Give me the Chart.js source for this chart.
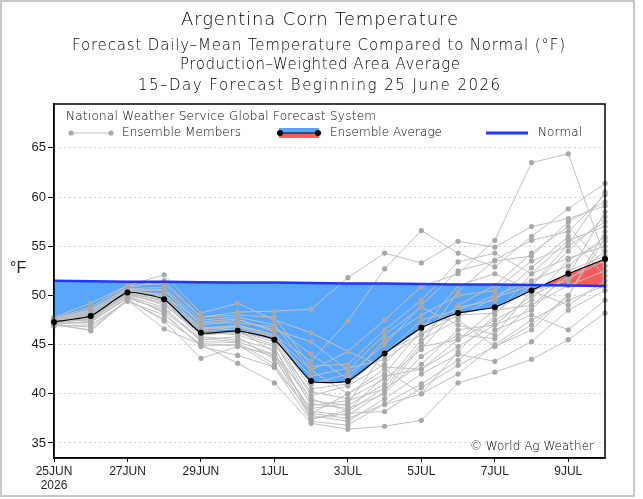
<!DOCTYPE html>
<html>
<head>
<meta charset="utf-8">
<title>Argentina Corn Temperature</title>
<script src="https://cdn.jsdelivr.net/npm/chart.js@4.4.1/dist/chart.umd.min.js"></script>
<style>
  html, body { margin: 0; padding: 0; background: #fff; }
  #wrap { width: 643px; height: 499px; }
</style>
</head>
<body>
<div id="wrap"><canvas id="chart" width="643" height="499"></canvas></div>
<script>
// days of the 15-day forecast
const xLabels = ['25JUN', '26JUN', '27JUN', '28JUN', '29JUN', '30JUN', '1JUL', '2JUL',
                 '3JUL', '4JUL', '5JUL', '6JUL', '7JUL', '8JUL', '9JUL', '10JUL'];
const yTicks = [35, 40, 45, 50, 55, 60, 65];

const normal      = [51.5, 51.45, 51.4, 51.4, 51.35, 51.3, 51.3, 51.25, 51.2, 51.2, 51.15, 51.1, 51.1, 51.05, 51.0, 50.95];
const ensembleAvg = [47.3, 47.9, 50.3, 49.6, 46.2, 46.4, 45.5, 41.3, 41.3, 44.1, 46.7, 48.2, 48.8, 50.5, 52.2, 53.7];

// ensemble members (approximate)
const member01 = [47.5, 48.2, 50.5, 50.0, 46.8, 46.5, 45.8, 42.4, 44.3, 47.5, 50.9, 52.2, 55.6, 63.5, 64.4, 53.8];
const member02 = [47.2, 47.8, 50.2, 49.8, 46.5, 47.0, 46.0, 43.3, 47.4, 52.7, 56.6, 54.3, 52.9, 56.0, 58.8, 61.4];
const member03 = [47.6, 48.5, 50.8, 51.5, 47.8, 48.3, 48.4, 48.6, 51.8, 54.3, 53.3, 55.5, 54.9, 57.0, 57.8, 59.1];
const member04 = [47.0, 46.5, 49.6, 47.4, 43.6, 44.8, 44.0, 39.5, 38.2, 40.6, 45.1, 50.4, 53.6, 55.6, 56.5, 60.2];
const member05 = [47.1, 46.4, 49.5, 46.6, 45.0, 43.1, 41.1, 37.0, 36.4, 36.7, 37.3, 41.1, 42.2, 43.5, 45.5, 48.2];
const member06 = [47.3, 47.5, 50.0, 48.2, 44.8, 43.9, 42.7, 38.0, 37.5, 38.9, 40.0, 44.3, 48.0, 52.2, 55.6, 57.0];
const member07 = [47.8, 49.2, 51.0, 52.1, 48.2, 49.2, 47.5, 46.2, 44.3, 42.7, 42.5, 45.5, 47.5, 49.5, 53.6, 55.5];
const member08 = [47.4, 48.0, 50.6, 50.5, 47.0, 47.5, 46.5, 45.3, 42.4, 46.0, 48.8, 47.0, 46.0, 50.5, 51.5, 54.5];
const member09 = [47.2, 47.6, 50.1, 49.2, 45.8, 45.5, 44.5, 39.0, 38.5, 40.0, 43.8, 46.0, 45.6, 49.0, 52.0, 58.5];
const member10 = [47.5, 48.3, 50.4, 49.9, 46.0, 46.2, 45.0, 40.2, 39.5, 41.5, 44.5, 48.8, 49.5, 52.8, 56.0, 52.0];
const member11 = [47.0, 47.4, 49.8, 48.4, 45.5, 45.8, 43.5, 38.5, 39.0, 44.3, 46.0, 49.0, 51.0, 54.3, 57.0, 53.0];
const member12 = [47.3, 47.7, 50.2, 49.5, 46.3, 46.0, 44.8, 37.5, 38.0, 38.2, 40.6, 42.9, 44.8, 47.0, 50.0, 56.5];
const member13 = [47.6, 48.6, 50.7, 50.8, 47.5, 47.8, 47.0, 42.4, 40.0, 42.0, 46.5, 51.0, 52.2, 50.5, 49.0, 51.5];
const member14 = [47.2, 47.2, 49.9, 48.8, 45.3, 45.2, 43.0, 37.8, 37.2, 39.5, 42.0, 44.0, 43.3, 45.3, 48.5, 50.5];
const member15 = [47.4, 48.1, 50.3, 50.2, 46.6, 46.8, 45.8, 39.8, 40.8, 43.0, 47.0, 47.8, 49.8, 51.0, 54.5, 58.0];
const member16 = [46.9, 47.0, 49.4, 48.0, 44.9, 45.0, 42.7, 37.2, 36.8, 39.0, 41.0, 43.4, 46.5, 48.0, 46.5, 49.5];
const member17 = [47.3, 47.9, 50.0, 49.3, 46.0, 46.3, 45.3, 38.8, 39.3, 40.5, 43.0, 46.5, 47.0, 48.5, 52.5, 54.0];
const member18 = [47.5, 48.4, 50.5, 50.6, 47.2, 47.2, 46.8, 44.0, 41.5, 45.5, 48.0, 50.0, 50.5, 53.5, 55.0, 57.5];
const member19 = [47.1, 47.3, 49.7, 48.6, 45.6, 45.3, 44.0, 38.2, 37.8, 40.2, 44.8, 45.5, 48.5, 49.0, 51.0, 52.5];
const member20 = [47.7, 48.8, 51.0, 51.2, 47.8, 48.0, 47.8, 42.8, 43.0, 46.5, 49.5, 53.4, 54.3, 52.2, 53.8, 55.0];
const member21 = [47.3, 47.6, 50.2, 49.0, 46.2, 46.4, 45.5, 39.3, 38.8, 41.0, 45.5, 47.5, 44.8, 46.5, 50.0, 55.8];
const member22 = [47.2, 47.8, 50.1, 49.6, 46.4, 46.6, 44.2, 38.0, 40.0, 42.5, 40.0, 42.0, 45.0, 47.5, 49.5, 51.0];
const member23 = [47.4, 48.0, 50.4, 49.7, 46.7, 46.9, 46.0, 40.5, 41.0, 44.0, 47.5, 48.5, 50.0, 51.5, 53.0, 56.0];
const member24 = [47.6, 48.5, 50.6, 50.0, 47.3, 47.6, 46.3, 41.0, 42.0, 45.0, 49.0, 52.5, 53.5, 54.0, 57.5, 59.5];
const member25 = [47.0, 46.8, 49.5, 47.6, 45.1, 44.9, 43.8, 37.4, 38.3, 41.8, 42.5, 44.8, 47.0, 50.0, 51.8, 53.5];
const member26 = [47.5, 48.1, 50.3, 49.4, 46.1, 46.2, 45.6, 41.8, 42.6, 43.5, 46.0, 48.0, 48.2, 51.0, 55.2, 60.5];

const members = [member01, member02, member03, member04, member05, member06, member07, member08, member09,
                 member10, member11, member12, member13, member14, member15, member16, member17, member18,
                 member19, member20, member21, member22, member23, member24, member25, member26];

const BLUE_FILL = '#58a6fb';
const RED_FILL  = '#fa5c5c';
const NORMAL_COLOR = '#1f35ff';
const MEMBER_LINE = '#c0c0c0';
const MEMBER_DOT  = '#a8a8a8';
const TEXT = '#1e1e1e';
const HERSHEY = '"DejaVu Sans", sans-serif';

// draw text stretched to a target width with letter spacing (GrADS look)
function fitText(ctx, text, left, y, size, width) {
  ctx.save();
  ctx.font = '200 ' + size + 'px ' + HERSHEY;
  ctx.fillStyle = '#000';
  ctx.textBaseline = 'middle';
  ctx.textAlign = 'left';
  const n = Array.from(text).length;
  const w = ctx.measureText(text).width;
  if ('letterSpacing' in ctx && n > 1) {
    ctx.letterSpacing = ((width - w) / (n - 1)) + 'px';
    ctx.fillText(text, left, y);
  } else {
    ctx.translate(left, y);
    ctx.scale(width / w, 1);
    ctx.fillText(text, 0, 0);
  }
  ctx.restore();
}

const decorations = {
  id: 'decorations',
  afterDraw(chart) {
    const ctx = chart.ctx;
    const a = chart.chartArea;

    // plot frame
    ctx.save();
    ctx.strokeStyle = '#000';
    ctx.lineWidth = 1.5;
    ctx.strokeRect(a.left, a.top, a.right - a.left, a.bottom - a.top);
    ctx.restore();

    // outer picture border
    ctx.save();
    ctx.strokeStyle = '#c8c8c8';
    ctx.lineWidth = 2;
    ctx.strokeRect(1, 1, 633, 495);
    ctx.restore();

    // titles
    fitText(ctx, 'Argentina Corn Temperature', 181, 20, 18, 277);
    fitText(ctx, 'Forecast Daily\u2013Mean Temperature Compared to Normal (\u00b0F)', 72, 46, 15, 493);
    fitText(ctx, 'Production\u2013Weighted Area Average', 180, 65, 15, 280);
    fitText(ctx, '15\u2013Day Forecast Beginning 25 June 2026', 138, 86, 15, 362);

    // y axis unit
    ctx.save();
    ctx.font = '16px "Liberation Sans", sans-serif';
    ctx.fillStyle = TEXT;
    ctx.textBaseline = 'middle';
    ctx.fillText('\u00b0F', 10, 269);
    ctx.restore();

    // legend inside the plot
    fitText(ctx, 'National Weather Service Global Forecast System', 66, 117, 12, 310);
    const ly = 133;
    ctx.save();
    // ensemble member sample
    ctx.strokeStyle = MEMBER_LINE;
    ctx.lineWidth = 1;
    ctx.beginPath(); ctx.moveTo(71, ly); ctx.lineTo(111, ly); ctx.stroke();
    ctx.fillStyle = MEMBER_DOT;
    [71, 111].forEach(x => { ctx.beginPath(); ctx.arc(x, ly, 2.6, 0, Math.PI * 2); ctx.fill(); });
    // ensemble average sample
    ctx.fillStyle = BLUE_FILL;
    ctx.fillRect(279, ly - 5, 40, 5);
    ctx.fillStyle = RED_FILL;
    ctx.fillRect(279, ly, 40, 5);
    ctx.strokeStyle = '#000';
    ctx.beginPath(); ctx.moveTo(280, ly); ctx.lineTo(318, ly); ctx.stroke();
    ctx.fillStyle = '#000';
    [280, 318].forEach(x => { ctx.beginPath(); ctx.arc(x, ly, 3, 0, Math.PI * 2); ctx.fill(); });
    // normal sample
    ctx.strokeStyle = NORMAL_COLOR;
    ctx.lineWidth = 3;
    ctx.beginPath(); ctx.moveTo(486, ly); ctx.lineTo(528, ly); ctx.stroke();
    ctx.restore();
    fitText(ctx, 'Ensemble Members', 122, ly, 12, 119);
    fitText(ctx, 'Ensemble Average', 330, ly, 12, 112);
    fitText(ctx, 'Normal', 538, ly, 12, 44);

    // credit
    fitText(ctx, '\u00a9 World Ag Weather', 470, 447, 12, 124);
  }
};

const datasets = [
  {
    label: 'Normal',
    data: normal,
    borderColor: NORMAL_COLOR,
    borderWidth: 2.5,
    pointRadius: 0,
    fill: false,
    order: 0,
  },
  {
    label: 'Ensemble Average',
    data: ensembleAvg,
    borderColor: '#000',
    borderWidth: 1.2,
    pointRadius: 3,
    pointBackgroundColor: '#000',
    pointBorderWidth: 0,
    tension: 0.15,
    fill: false,
    order: 1,
  },
  {
    label: 'Anomaly',
    data: ensembleAvg,
    borderWidth: 0,
    borderColor: 'rgba(0,0,0,0)',
    pointRadius: 0,
    tension: 0.15,
    fill: { target: 0, above: RED_FILL, below: BLUE_FILL },
    order: 100,
  },
];

members.forEach((m, i) => {
  datasets.push({
    label: 'Member ' + (i + 1),
    data: m,
    borderColor: MEMBER_LINE,
    borderWidth: 1,
    pointRadius: 2.6,
    pointBackgroundColor: MEMBER_DOT,
    pointBorderWidth: 0,
    fill: false,
    order: 50,
  });
});

new Chart(document.getElementById('chart'), {
  type: 'line',
  data: { labels: xLabels, datasets },
  options: {
    responsive: false,
    animation: false,
    layout: { padding: { top: 104, right: 38, left: 0, bottom: 0 } },
    plugins: {
      legend: { display: false },
      title: { display: false },
      tooltip: { enabled: false },
    },
    scales: {
      x: {
        offset: false,
        grid: {
          drawOnChartArea: false,
          drawTicks: true,
          tickLength: 4,
          tickColor: c => (c.index % 2 ? 'rgba(0,0,0,0)' : '#000'),
        },
        border: { color: '#000', width: 1.5 },
        ticks: {
          autoSkip: false,
          maxRotation: 0,
          padding: 2,
          color: TEXT,
          font: { family: 'Liberation Sans', size: 12 },
          callback: (v, i) => {
            if (i % 2) return '';
            return i === 0 ? [xLabels[0], '2026'] : xLabels[i];
          },
        },
        afterFit: scale => { scale.height = 41; },
      },
      y: {
        min: 33.47,
        max: 69.46,
        afterBuildTicks: axis => { axis.ticks = yTicks.map(v => ({ value: v })); },
        grid: {
          color: '#a8a8a8',
          lineWidth: 1,
          tickLength: 6,
          tickColor: '#000',
          tickBorderDash: [],
        },
        border: { color: '#000', width: 1.5, dash: [1, 4] },
        ticks: {
          padding: 2,
          color: TEXT,
          font: { family: 'Liberation Sans', size: 13 },
        },
        afterFit: scale => { scale.width = 54; },
      },
    },
  },
  plugins: [decorations],
});
</script>
</body>
</html>
